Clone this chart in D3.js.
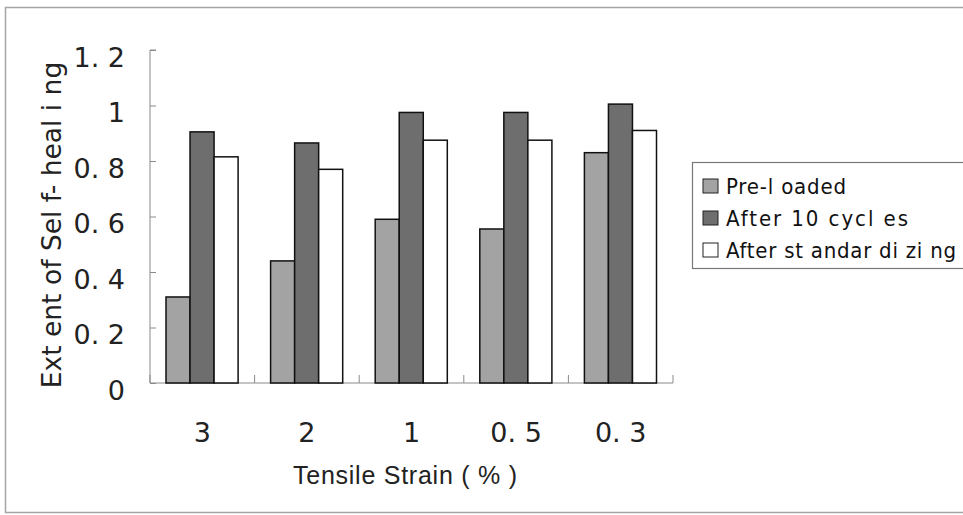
<!DOCTYPE html>
<html>
<head>
<meta charset="utf-8">
<script src="https://cdn.jsdelivr.net/npm/d3@7"></script>
<style>
  body { margin: 0; background: #fff; }
  svg { display: block; }
</style>
</head>
<body>
<svg id="chart" width="963" height="515"></svg>
<script>
'use strict'
// chart data
const strains = ["3", "2", "1", "0. 5", "0. 3"];
const seriesNames = ["Pre-l oaded", "After  10  cycl es", "After  st andar di zi ng"];
const legendWidths = [120, 182, 230];
const preLoaded = [0.31, 0.44, 0.59, 0.555, 0.83];
const after10 = [0.905, 0.865, 0.975, 0.975, 1.005];
const afterStd = [0.815, 0.77, 0.875, 0.875, 0.91];
const yTicks = [0, 0.2, 0.4, 0.6, 0.8, 1, 1.2];
const yTickLabels = ["0", "0. 2", "0. 4", "0. 6", "0. 8", "1", "1. 2"];
const fills = ["#a3a3a3", "#6e6e6e", "#ffffff"];

function createChart() {
    let svg = d3.select("#chart");
    let margin = { top: 50, left: 150 },
        width = 523,
        height = 333;

    // outer frame
    svg.append("rect")
        .attr("x", 5.5).attr("y", 7.5)
        .attr("width", 965).attr("height", 505)
        .attr("fill", "none").attr("stroke", "#a5a5a5").attr("stroke-width", 1.5);

    let g = svg.append("g").attr("transform", `translate(${margin.left},${margin.top})`);

    let x = d3.scaleBand().domain(strains).range([0, width]).paddingInner(0).paddingOuter(0);
    let inner = d3.scaleBand().domain([0, 1, 2]).range([16, x.bandwidth() - 16.5]);
    let y = d3.scaleLinear().domain([0, 1.2]).range([height, 0]);

    // y axis (ticks point inside)
    let yAxis = g.append("g")
        .call(d3.axisRight(y).tickValues(yTicks).tickSize(6).tickFormat(""));
    yAxis.select(".domain").attr("stroke", "#8a8a8a").attr("d", `M6,0H0V${height}`);
    yAxis.selectAll(".tick line").attr("stroke", "#8a8a8a");

    yAxis.selectAll(".tick").append("text")
        .attr("x", -25).attr("dy", "0.6em")
        .attr("fill", "#222")
        .attr("text-anchor", "end")
        .style("font-family", "DejaVu Sans")
        .style("font-size", "27px")
        .text((d, i) => yTickLabels[i]);

    // x axis (ticks at category boundaries, pointing up)
    let bounds = strains.map((s, i) => x(s) + x.bandwidth()).concat([0]);
    let xAxis = g.append("g").attr("transform", `translate(0,${height})`);
    xAxis.append("path")
        .attr("d", `M0,0H${width}`)
        .attr("stroke", "#8a8a8a").attr("fill", "none");
    xAxis.selectAll(".xtick").data(bounds).enter().append("line")
        .attr("x1", d => d).attr("x2", d => d)
        .attr("y1", 0).attr("y2", -8)
        .attr("stroke", "#8a8a8a");
    xAxis.selectAll(".xlab").data(strains).enter().append("text")
        .attr("x", d => x(d) + x.bandwidth() / 2)
        .attr("y", 59)
        .attr("text-anchor", "middle")
        .attr("fill", "#222")
        .style("font-family", "DejaVu Sans")
        .style("font-size", "27px")
        .text(d => d);

    // bars
    let allSeries = [preLoaded, after10, afterStd];
    allSeries.forEach((vals, si) => {
        g.selectAll(".bar" + si)
            .data(vals)
            .enter().append("rect")
            .attr("class", "bar" + si)
            .attr("x", (d, i) => x(strains[i]) + inner(si))
            .attr("y", d => y(d))
            .attr("width", inner.bandwidth())
            .attr("height", d => y(0) - y(d))
            .attr("fill", fills[si])
            .attr("stroke", "#111")
            .attr("stroke-width", 1.5);
    });

    // y title
    svg.append("text")
        .attr("transform", "translate(61,225) rotate(-90)")
        .attr("text-anchor", "middle")
        .attr("fill", "#222")
        .style("font-family", "DejaVu Sans")
        .style("font-size", "26.5px")
        .text("Ext ent  of  Sel f- heal i ng");

    // x title
    svg.append("text")
        .attr("x", 405).attr("y", 484)
        .attr("text-anchor", "middle")
        .attr("fill", "#222")
        .attr("textLength", 224)
        .attr("lengthAdjust", "spacing")
        .style("font-family", "Liberation Sans")
        .style("font-size", "25px")
        .text("Tensile Strain ( % )");

    // legend
    let legend = svg.append("g").attr("transform", "translate(692,162)");
    legend.append("rect")
        .attr("x", 0.5).attr("y", 0.5)
        .attr("width", 300).attr("height", 106)
        .attr("fill", "#fff").attr("stroke", "#777").attr("stroke-width", 1.2);
    let items = legend.selectAll(".item")
        .data(seriesNames)
        .enter().append("g")
        .attr("transform", (d, i) => `translate(0,${17 + i * 32})`);
    items.append("rect")
        .attr("x", 11).attr("y", 0)
        .attr("width", 15).attr("height", 14)
        .attr("fill", (d, i) => fills[i])
        .attr("stroke", "#222").attr("stroke-width", 1);
    items.append("text")
        .attr("x", 34).attr("y", 7)
        .attr("dy", "0.38em")
        .attr("fill", "#111")
        .attr("textLength", (d, i) => legendWidths[i])
        .attr("lengthAdjust", "spacing")
        .style("font-family", "DejaVu Sans Condensed, DejaVu Sans")
        .style("font-stretch", "condensed")
        .style("font-size", "22px")
        .text(d => d);
}

createChart();
</script>
</body>
</html>
